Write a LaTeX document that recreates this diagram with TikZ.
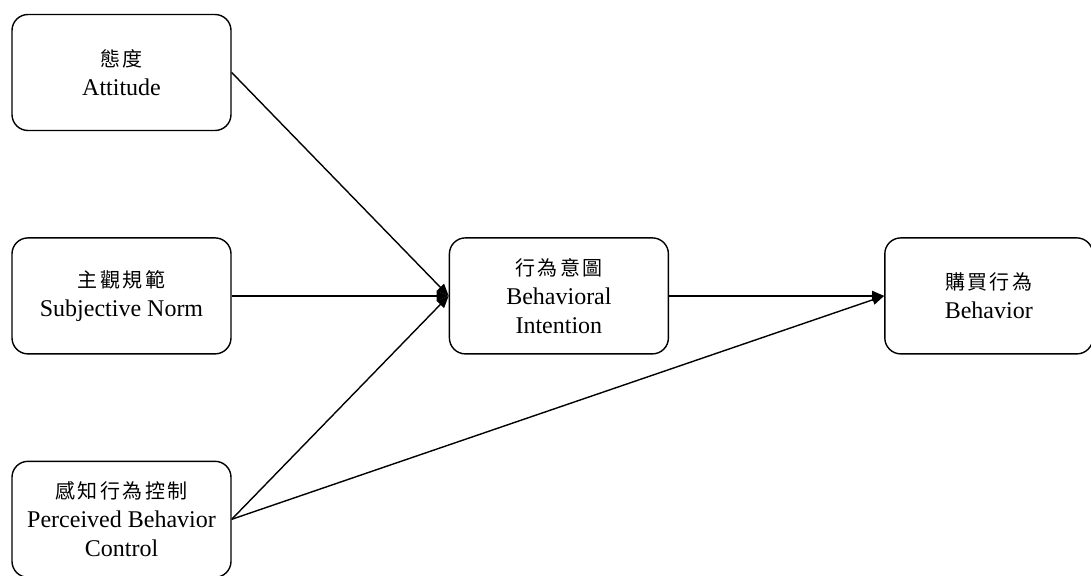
\documentclass[tikz,border=0pt]{standalone}
\usepackage{fontspec}
\setmainfont{Liberation Serif}
\newfontfamily\cjk[LetterSpace=12]{Noto Sans CJK TC}
\usetikzlibrary{positioning,arrows.meta}

\newcommand{\zh}[1]{{\cjk\fontsize{20}{30}\selectfont #1}}

\begin{document}
\begin{tikzpicture}[
    x=1pt, y=1pt,
    node distance=106pt and 217pt,
    box/.style={rectangle, draw, line width=1.4pt, rounded corners=16pt, minimum width=219pt, minimum height=116pt, align=center, font=\fontsize{24}{29}\selectfont},
    arrow/.style={-{Triangle[length=12pt,width=10pt]}, line width=1.4pt}
]
\useasboundingbox (0,0) rectangle (1091,-575);

\node[box] (attitude) at (121.5,-72.5) {\zh{態度}\\Attitude};
\node[box, below=of attitude] (norm) {\zh{主觀規範}\\Subjective Norm};
\node[box, below=of norm] (control) {\zh{感知行為控制}\\Perceived Behavior\\Control};
\node[box, right=of norm] (intention) {\zh{行為意圖}\\Behavioral\\Intention};
\node[box, right=215pt of intention, minimum width=208pt] (behavior) {\zh{購買行為}\\Behavior};

\draw[arrow] (attitude.east) -- (intention.west);
\draw[arrow] (norm.east) -- (intention.west);
\draw[arrow] (control.east) -- (intention.west);
\draw[arrow] (intention.east) -- (behavior.west);
\draw[arrow] (control.east) -- (behavior.west);
\end{tikzpicture}
\end{document}
